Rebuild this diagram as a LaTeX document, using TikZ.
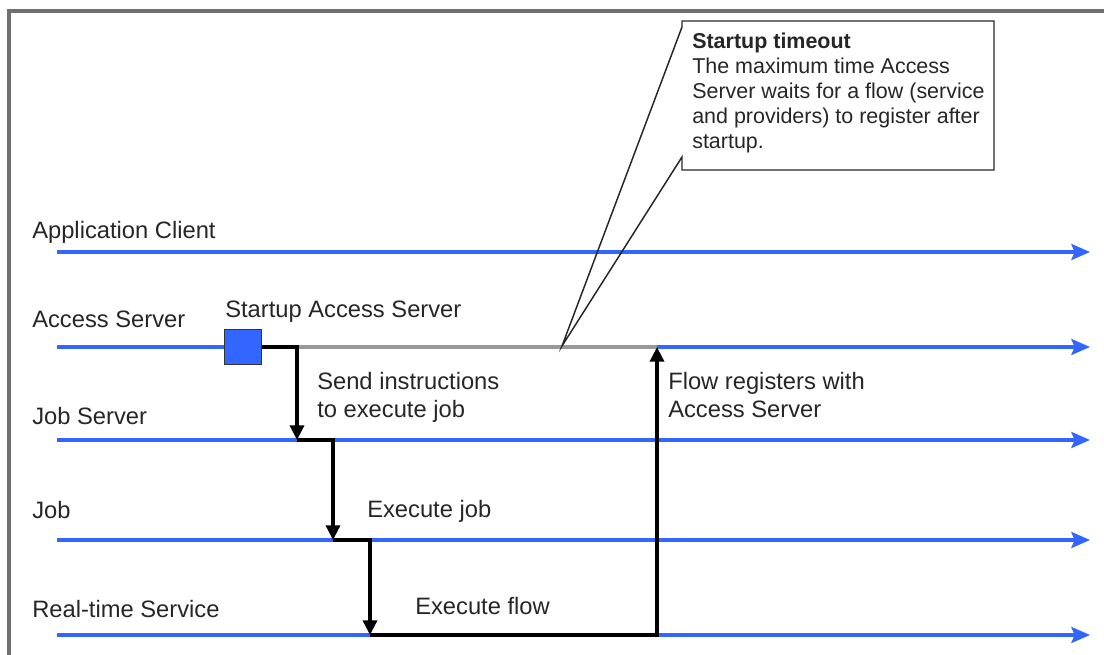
\documentclass[tikz,border=0pt]{standalone}
\usepackage{fontspec}
\setmainfont{Liberation Sans}
\usetikzlibrary{arrows.meta}
\definecolor{laneblue}{HTML}{3366FF}
\definecolor{framegray}{HTML}{707070}
\definecolor{idlegray}{HTML}{999999}
\definecolor{textgray}{HTML}{262626}

\begin{document}
\begin{tikzpicture}[x=0.75pt,y=0.75pt,yscale=-1,xscale=1,
    lane/.style={draw=laneblue,line width=2.3pt,-{Stealth[length=14pt,width=12pt,inset=2.5pt]}},
    laneseg/.style={draw=laneblue,line width=2.3pt},
    idle/.style={draw=idlegray,line width=2.3pt},
    msg/.style={draw=black,line width=2.5pt,-{Triangle[length=11pt,width=10.5pt]}},
    startbox/.style={draw=black!80,line width=1.2pt,fill=laneblue,minimum width=28pt,minimum height=26pt,inner sep=0pt},
    lbl/.style={anchor=base west,inner sep=0pt,text=textgray,align=left,font=\fontsize{17.8}{21}\selectfont},
    note/.style={anchor=base west,inner sep=0pt,text=textgray,align=left,font=\fontsize{16.1}{18.75}\selectfont},
    callout/.style={draw=black!85,line width=1.1pt}]
        \useasboundingbox (0,0) rectangle (1104,655);
        \draw[framegray,line width=2.5pt] (9,665) -- (9,11) -- (1115,11);

        % lifelines
        \coordinate (appc-s) at (57,252);  \coordinate (appc-e) at (1090,252);
        \coordinate (accs-s) at (57,347);  \coordinate (accs-e) at (1090,347);
        \coordinate (jobs-s) at (57,440);  \coordinate (jobs-e) at (1090,440);
        \coordinate (job-s) at (57,540);   \coordinate (job-e) at (1090,540);
        \coordinate (rts-s) at (57,635);   \coordinate (rts-e) at (1090,635);

        % message corners
        \coordinate (wait) at (297,347);
        \coordinate (send) at (297,440);
        \coordinate (exec) at (333,540);
        \coordinate (flow) at (370,635);
        \coordinate (reg) at (657,347);
        \coordinate (tmo) at (562,346);

        \node[startbox] (start) at (243,347) {};

        \draw[lane] (appc-s) -- (appc-e);
        \draw[laneseg] (accs-s) -- (start.west);
        \draw[idle] (wait) -- (reg);
        \draw[lane] (reg) -- (accs-e);
        \draw[lane] (jobs-s) -- (jobs-e);
        \draw[lane] (job-s) -- (job-e);
        \draw[lane] (rts-s) -- (rts-e);

        \draw[msg] (start.east) -| (send);
        \draw[msg] (send) -| (exec);
        \draw[msg] (exec) -| (flow);
        \draw[msg] (flow) -| (reg);

        % callout
        \draw[callout] (682,27) -- (tmo) -- (682,157) -- (682,170) -- (994,170) -- (994,21) -- (682,21) -- cycle;

        \draw (32,239) node (appc) [lbl] {Application Client};
        \draw (32,328) node (accs) [lbl] {Access Server};
        \draw (32,425) node (jobs) [lbl] {Job Server};
        \draw (32,519) node (job) [lbl] {Job};
        \draw (32,618) node (rts) [lbl] {Real-time Service};
        \draw (225,318) node (startlbl) [lbl] {Startup Access Server};
        \draw (317,418) node (sendlbl) [lbl] {Send instructions\\to execute job};
        \draw (367,518) node (execlbl) [lbl] {Execute job};
        \draw (415,615) node (flowlbl) [lbl] {Execute flow};
        \draw (668,418) node (reglbl) [lbl] {Flow registers with\\Access Server};
        \draw (692,149) node (tmolbl) [note] {\textbf{Startup timeout}\\The maximum time Access\\Server waits for a flow (service\\and providers) to register after\\startup.};
\end{tikzpicture}
\end{document}
